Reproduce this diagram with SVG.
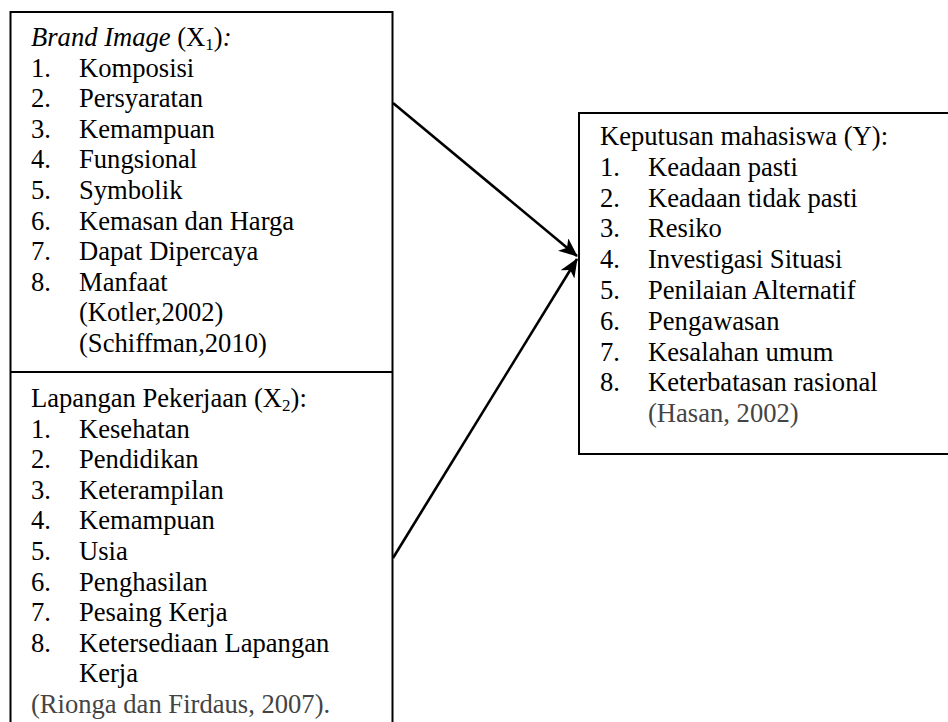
<svg xmlns="http://www.w3.org/2000/svg" width="948" height="722" viewBox="0 0 948 722">
<style>
  text { font-family: "Liberation Serif", "Times New Roman", serif; font-size: 26.6px; fill: #000; }
  .cite { fill: #444; }
  .box { fill: none; stroke: #000; stroke-width: 2; }
  .conn { stroke: #000; stroke-width: 2.6; fill: none; }
  .sub { font-size: 17px; }
</style>
<defs>
  <marker id="arrow" viewBox="0 0 19 16" refX="18" refY="8" markerWidth="19" markerHeight="16" orient="auto" markerUnits="userSpaceOnUse">
    <path d="M0,0 L19,8 L0,16 L5,8 Z" fill="#000"/>
  </marker>
</defs>
<rect width="948" height="722" fill="#fff"/>

<g id="node-brand-image">
  <path class="box" d="M10.5,722 L10.5,12 L392.5,12 L392.5,722"/>
  <line class="box" x1="10.5" y1="372" x2="392.5" y2="372"/>
  <text x="31" y="46"><tspan font-style="italic">Brand Image</tspan> (X<tspan class="sub" dy="4">1</tspan><tspan dy="-4">)</tspan><tspan font-style="italic">:</tspan></text>
  <text x="31" y="76.6">1.</text><text x="79" y="76.6">Komposisi</text>
  <text x="31" y="107.2">2.</text><text x="79" y="107.2">Persyaratan</text>
  <text x="31" y="137.8">3.</text><text x="79" y="137.8">Kemampuan</text>
  <text x="31" y="168.4">4.</text><text x="79" y="168.4">Fungsional</text>
  <text x="31" y="199">5.</text><text x="79" y="199">Symbolik</text>
  <text x="31" y="229.6">6.</text><text x="79" y="229.6">Kemasan dan Harga</text>
  <text x="31" y="260.2">7.</text><text x="79" y="260.2">Dapat Dipercaya</text>
  <text x="31" y="290.8">8.</text><text x="79" y="290.8">Manfaat</text>
  <text x="79" y="321.4">(Kotler,2002)</text>
  <text x="79" y="352">(Schiffman,2010)</text>
</g>

<g id="node-lapangan-pekerjaan">
  <text x="31" y="407">Lapangan Pekerjaan (X<tspan class="sub" dy="4">2</tspan><tspan dy="-4">):</tspan></text>
  <text x="31" y="437.6">1.</text><text x="79" y="437.6">Kesehatan</text>
  <text x="31" y="468.2">2.</text><text x="79" y="468.2">Pendidikan</text>
  <text x="31" y="498.8">3.</text><text x="79" y="498.8">Keterampilan</text>
  <text x="31" y="529.4">4.</text><text x="79" y="529.4">Kemampuan</text>
  <text x="31" y="560">5.</text><text x="79" y="560">Usia</text>
  <text x="31" y="590.6">6.</text><text x="79" y="590.6">Penghasilan</text>
  <text x="31" y="621.2">7.</text><text x="79" y="621.2">Pesaing Kerja</text>
  <text x="31" y="651.8">8.</text><text x="79" y="651.8">Ketersediaan Lapangan</text>
  <text x="79" y="682.4">Kerja</text>
  <text class="cite" x="31" y="713">(Rionga dan Firdaus, 2007).</text>
</g>

<g id="node-keputusan">
  <rect class="box" x="579" y="113" width="380" height="341"/>
  <text x="600" y="145">Keputusan mahasiswa (Y):</text>
  <text x="600" y="175.8">1.</text><text x="648" y="175.8">Keadaan pasti</text>
  <text x="600" y="206.6">2.</text><text x="648" y="206.6">Keadaan tidak pasti</text>
  <text x="600" y="237.4">3.</text><text x="648" y="237.4">Resiko</text>
  <text x="600" y="268.2">4.</text><text x="648" y="268.2">Investigasi Situasi</text>
  <text x="600" y="299">5.</text><text x="648" y="299">Penilaian Alternatif</text>
  <text x="600" y="329.8">6.</text><text x="648" y="329.8">Pengawasan</text>
  <text x="600" y="360.6">7.</text><text x="648" y="360.6">Kesalahan umum</text>
  <text x="600" y="391.4">8.</text><text x="648" y="391.4">Keterbatasan rasional</text>
  <text class="cite" x="648" y="422.2">(Hasan, 2002)</text>
</g>

<g id="connectors">
  <line class="conn" x1="393" y1="103" x2="577" y2="256" marker-end="url(#arrow)"/>
  <line class="conn" x1="393" y1="558" x2="577" y2="259" marker-end="url(#arrow)"/>
</g>
</svg>
